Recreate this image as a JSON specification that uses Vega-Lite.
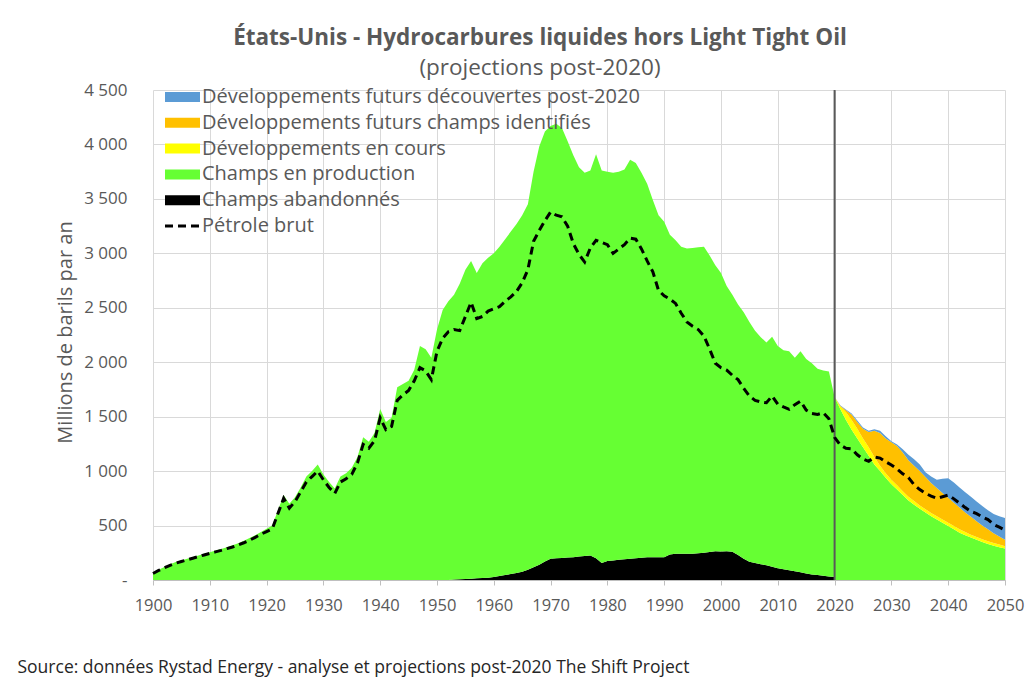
{
  "$schema": "https://vega.github.io/schema/vega-lite/v6.json",
  "width": 852,
  "height": 490,
  "autosize": "none",
  "padding": {"left": 153, "top": 90, "right": 30, "bottom": 102},
  "background": "white",
  "config": {"view": {"stroke": null}, "font": "Open Sans"},
  "title": {
    "text": "États-Unis - Hydrocarbures liquides hors Light Tight Oil",
    "subtitle": "(projections post-2020)",
    "anchor": "middle",
    "frame": "group",
    "dx": -39,
    "offset": 2,
    "font": "Open Sans",
    "fontSize": 22.5,
    "fontWeight": "bold",
    "color": "#595959",
    "subtitleFont": "Open Sans",
    "subtitleFontSize": 22.5,
    "subtitleColor": "#595959",
    "subtitlePadding": 7
  },
  "datasets": {
    "historique": [
      {"annee":1900,"Champs abandonnés":0,"Champs en production":65},
      {"annee":1901,"Champs abandonnés":0,"Champs en production":95},
      {"annee":1902,"Champs abandonnés":0,"Champs en production":120},
      {"annee":1903,"Champs abandonnés":0,"Champs en production":145},
      {"annee":1904,"Champs abandonnés":0,"Champs en production":165},
      {"annee":1905,"Champs abandonnés":0,"Champs en production":180},
      {"annee":1906,"Champs abandonnés":0,"Champs en production":195},
      {"annee":1907,"Champs abandonnés":0,"Champs en production":210},
      {"annee":1908,"Champs abandonnés":0,"Champs en production":225},
      {"annee":1909,"Champs abandonnés":0,"Champs en production":240},
      {"annee":1910,"Champs abandonnés":0,"Champs en production":255},
      {"annee":1911,"Champs abandonnés":0,"Champs en production":270},
      {"annee":1912,"Champs abandonnés":0,"Champs en production":285},
      {"annee":1913,"Champs abandonnés":0,"Champs en production":300},
      {"annee":1914,"Champs abandonnés":0,"Champs en production":318},
      {"annee":1915,"Champs abandonnés":0,"Champs en production":338},
      {"annee":1916,"Champs abandonnés":0,"Champs en production":360},
      {"annee":1917,"Champs abandonnés":0,"Champs en production":385},
      {"annee":1918,"Champs abandonnés":0,"Champs en production":410},
      {"annee":1919,"Champs abandonnés":0,"Champs en production":440},
      {"annee":1920,"Champs abandonnés":0,"Champs en production":470},
      {"annee":1921,"Champs abandonnés":0,"Champs en production":500},
      {"annee":1922,"Champs abandonnés":0,"Champs en production":640},
      {"annee":1923,"Champs abandonnés":0,"Champs en production":780},
      {"annee":1924,"Champs abandonnés":0,"Champs en production":700},
      {"annee":1925,"Champs abandonnés":0,"Champs en production":760},
      {"annee":1926,"Champs abandonnés":0,"Champs en production":850},
      {"annee":1927,"Champs abandonnés":0,"Champs en production":950},
      {"annee":1928,"Champs abandonnés":0,"Champs en production":1000},
      {"annee":1929,"Champs abandonnés":0,"Champs en production":1060},
      {"annee":1930,"Champs abandonnés":0,"Champs en production":970},
      {"annee":1931,"Champs abandonnés":0,"Champs en production":900},
      {"annee":1932,"Champs abandonnés":0,"Champs en production":840},
      {"annee":1933,"Champs abandonnés":0,"Champs en production":950},
      {"annee":1934,"Champs abandonnés":0,"Champs en production":980},
      {"annee":1935,"Champs abandonnés":0,"Champs en production":1030},
      {"annee":1936,"Champs abandonnés":0,"Champs en production":1130},
      {"annee":1937,"Champs abandonnés":0,"Champs en production":1310},
      {"annee":1938,"Champs abandonnés":0,"Champs en production":1270},
      {"annee":1939,"Champs abandonnés":0,"Champs en production":1350},
      {"annee":1940,"Champs abandonnés":0,"Champs en production":1570},
      {"annee":1941,"Champs abandonnés":0,"Champs en production":1450},
      {"annee":1942,"Champs abandonnés":0,"Champs en production":1490},
      {"annee":1943,"Champs abandonnés":0,"Champs en production":1770},
      {"annee":1944,"Champs abandonnés":0,"Champs en production":1800},
      {"annee":1945,"Champs abandonnés":0,"Champs en production":1830},
      {"annee":1946,"Champs abandonnés":0,"Champs en production":1930},
      {"annee":1947,"Champs abandonnés":0,"Champs en production":2150},
      {"annee":1948,"Champs abandonnés":0,"Champs en production":2120},
      {"annee":1949,"Champs abandonnés":0,"Champs en production":2040},
      {"annee":1950,"Champs abandonnés":0,"Champs en production":2300},
      {"annee":1951,"Champs abandonnés":0,"Champs en production":2480},
      {"annee":1952,"Champs abandonnés":0,"Champs en production":2560},
      {"annee":1953,"Champs abandonnés":5,"Champs en production":2615},
      {"annee":1954,"Champs abandonnés":8,"Champs en production":2712},
      {"annee":1955,"Champs abandonnés":10,"Champs en production":2840},
      {"annee":1956,"Champs abandonnés":12,"Champs en production":2918},
      {"annee":1957,"Champs abandonnés":15,"Champs en production":2805},
      {"annee":1958,"Champs abandonnés":18,"Champs en production":2892},
      {"annee":1959,"Champs abandonnés":21,"Champs en production":2939},
      {"annee":1960,"Champs abandonnés":28,"Champs en production":2972},
      {"annee":1961,"Champs abandonnés":36,"Champs en production":3024},
      {"annee":1962,"Champs abandonnés":46,"Champs en production":3084},
      {"annee":1963,"Champs abandonnés":55,"Champs en production":3145},
      {"annee":1964,"Champs abandonnés":65,"Champs en production":3205},
      {"annee":1965,"Champs abandonnés":75,"Champs en production":3275},
      {"annee":1966,"Champs abandonnés":95,"Champs en production":3355},
      {"annee":1967,"Champs abandonnés":118,"Champs en production":3632},
      {"annee":1968,"Champs abandonnés":140,"Champs en production":3840},
      {"annee":1969,"Champs abandonnés":170,"Champs en production":3950},
      {"annee":1970,"Champs abandonnés":195,"Champs en production":3975},
      {"annee":1971,"Champs abandonnés":200,"Champs en production":3990},
      {"annee":1972,"Champs abandonnés":203,"Champs en production":3947},
      {"annee":1973,"Champs abandonnés":206,"Champs en production":3824},
      {"annee":1974,"Champs abandonnés":210,"Champs en production":3690},
      {"annee":1975,"Champs abandonnés":215,"Champs en production":3575},
      {"annee":1976,"Champs abandonnés":220,"Champs en production":3520},
      {"annee":1977,"Champs abandonnés":224,"Champs en production":3536},
      {"annee":1978,"Champs abandonnés":200,"Champs en production":3710},
      {"annee":1979,"Champs abandonnés":155,"Champs en production":3605},
      {"annee":1980,"Champs abandonnés":175,"Champs en production":3575},
      {"annee":1981,"Champs abandonnés":180,"Champs en production":3560},
      {"annee":1982,"Champs abandonnés":185,"Champs en production":3565},
      {"annee":1983,"Champs abandonnés":190,"Champs en production":3580},
      {"annee":1984,"Champs abandonnés":195,"Champs en production":3665},
      {"annee":1985,"Champs abandonnés":200,"Champs en production":3630},
      {"annee":1986,"Champs abandonnés":205,"Champs en production":3535},
      {"annee":1987,"Champs abandonnés":208,"Champs en production":3432},
      {"annee":1988,"Champs abandonnés":208,"Champs en production":3282},
      {"annee":1989,"Champs abandonnés":208,"Champs en production":3142},
      {"annee":1990,"Champs abandonnés":210,"Champs en production":3080},
      {"annee":1991,"Champs abandonnés":235,"Champs en production":2935},
      {"annee":1992,"Champs abandonnés":240,"Champs en production":2880},
      {"annee":1993,"Champs abandonnés":240,"Champs en production":2820},
      {"annee":1994,"Champs abandonnés":240,"Champs en production":2805},
      {"annee":1995,"Champs abandonnés":240,"Champs en production":2810},
      {"annee":1996,"Champs abandonnés":245,"Champs en production":2810},
      {"annee":1997,"Champs abandonnés":250,"Champs en production":2810},
      {"annee":1998,"Champs abandonnés":258,"Champs en production":2722},
      {"annee":1999,"Champs abandonnés":265,"Champs en production":2625},
      {"annee":2000,"Champs abandonnés":262,"Champs en production":2558},
      {"annee":2001,"Champs abandonnés":265,"Champs en production":2435},
      {"annee":2002,"Champs abandonnés":260,"Champs en production":2360},
      {"annee":2003,"Champs abandonnés":230,"Champs en production":2300},
      {"annee":2004,"Champs abandonnés":195,"Champs en production":2265},
      {"annee":2005,"Champs abandonnés":168,"Champs en production":2202},
      {"annee":2006,"Champs abandonnés":155,"Champs en production":2135},
      {"annee":2007,"Champs abandonnés":145,"Champs en production":2085},
      {"annee":2008,"Champs abandonnés":135,"Champs en production":2045},
      {"annee":2009,"Champs abandonnés":122,"Champs en production":2113},
      {"annee":2010,"Champs abandonnés":108,"Champs en production":2042},
      {"annee":2011,"Champs abandonnés":98,"Champs en production":2012},
      {"annee":2012,"Champs abandonnés":90,"Champs en production":2010},
      {"annee":2013,"Champs abandonnés":80,"Champs en production":1960},
      {"annee":2014,"Champs abandonnés":72,"Champs en production":2028},
      {"annee":2015,"Champs abandonnés":60,"Champs en production":1970},
      {"annee":2016,"Champs abandonnés":50,"Champs en production":1940},
      {"annee":2017,"Champs abandonnés":45,"Champs en production":1895},
      {"annee":2018,"Champs abandonnés":38,"Champs en production":1887},
      {"annee":2019,"Champs abandonnés":32,"Champs en production":1883},
      {"annee":2020,"Champs abandonnés":28,"Champs en production":1652}
    ],
    "projections": [
      {"annee":2020,"Champs en production":1680,"Développements en cours":0,"Développements futurs champs identifiés":0,"Développements futurs découvertes post-2020":0},
      {"annee":2021,"Champs en production":1570,"Développements en cours":25,"Développements futurs champs identifiés":5,"Développements futurs découvertes post-2020":5},
      {"annee":2022,"Champs en production":1470,"Développements en cours":70,"Développements futurs champs identifiés":20,"Développements futurs découvertes post-2020":5},
      {"annee":2023,"Champs en production":1380,"Développements en cours":90,"Développements futurs champs identifiés":50,"Développements futurs découvertes post-2020":10},
      {"annee":2024,"Champs en production":1300,"Développements en cours":90,"Développements futurs champs identifiés":60,"Développements futurs découvertes post-2020":15},
      {"annee":2025,"Champs en production":1220,"Développements en cours":80,"Développements futurs champs identifiés":90,"Développements futurs découvertes post-2020":10},
      {"annee":2026,"Champs en production":1140,"Développements en cours":80,"Développements futurs champs identifiés":140,"Développements futurs découvertes post-2020":10},
      {"annee":2027,"Champs en production":1060,"Développements en cours":70,"Développements futurs champs identifiés":240,"Développements futurs découvertes post-2020":15},
      {"annee":2028,"Champs en production":1000,"Développements en cours":50,"Développements futurs champs identifiés":300,"Développements futurs découvertes post-2020":20},
      {"annee":2029,"Champs en production":940,"Développements en cours":40,"Développements futurs champs identifiés":320,"Développements futurs découvertes post-2020":20},
      {"annee":2030,"Champs en production":880,"Développements en cours":40,"Développements futurs champs identifiés":345,"Développements futurs découvertes post-2020":10},
      {"annee":2031,"Champs en production":830,"Développements en cours":40,"Développements futurs champs identifiés":360,"Développements futurs découvertes post-2020":15},
      {"annee":2032,"Champs en production":780,"Développements en cours":35,"Développements futurs champs identifiés":355,"Développements futurs découvertes post-2020":30},
      {"annee":2033,"Champs en production":730,"Développements en cours":35,"Développements futurs champs identifiés":335,"Développements futurs découvertes post-2020":50},
      {"annee":2034,"Champs en production":690,"Développements en cours":35,"Développements futurs champs identifiés":325,"Développements futurs découvertes post-2020":60},
      {"annee":2035,"Champs en production":655,"Développements en cours":30,"Développements futurs champs identifiés":315,"Développements futurs découvertes post-2020":60},
      {"annee":2036,"Champs en production":620,"Développements en cours":30,"Développements futurs champs identifiés":295,"Développements futurs découvertes post-2020":45},
      {"annee":2037,"Champs en production":585,"Développements en cours":30,"Développements futurs champs identifiés":275,"Développements futurs découvertes post-2020":60},
      {"annee":2038,"Champs en production":555,"Développements en cours":30,"Développements futurs champs identifiés":260,"Développements futurs découvertes post-2020":75},
      {"annee":2039,"Champs en production":525,"Développements en cours":30,"Développements futurs champs identifiés":245,"Développements futurs découvertes post-2020":130},
      {"annee":2040,"Champs en production":495,"Développements en cours":30,"Développements futurs champs identifiés":230,"Développements futurs découvertes post-2020":180},
      {"annee":2041,"Champs en production":465,"Développements en cours":30,"Développements futurs champs identifiés":215,"Développements futurs découvertes post-2020":185},
      {"annee":2042,"Champs en production":435,"Développements en cours":30,"Développements futurs champs identifiés":200,"Développements futurs découvertes post-2020":185},
      {"annee":2043,"Champs en production":410,"Développements en cours":30,"Développements futurs champs identifiés":180,"Développements futurs découvertes post-2020":185},
      {"annee":2044,"Champs en production":390,"Développements en cours":25,"Développements futurs champs identifiés":165,"Développements futurs découvertes post-2020":185},
      {"annee":2045,"Champs en production":370,"Développements en cours":25,"Développements futurs champs identifiés":145,"Développements futurs découvertes post-2020":180},
      {"annee":2046,"Champs en production":350,"Développements en cours":25,"Développements futurs champs identifiés":125,"Développements futurs découvertes post-2020":180},
      {"annee":2047,"Champs en production":330,"Développements en cours":25,"Développements futurs champs identifiés":110,"Développements futurs découvertes post-2020":175},
      {"annee":2048,"Champs en production":315,"Développements en cours":25,"Développements futurs champs identifiés":90,"Développements futurs découvertes post-2020":175},
      {"annee":2049,"Champs en production":300,"Développements en cours":25,"Développements futurs champs identifiés":75,"Développements futurs découvertes post-2020":185},
      {"annee":2050,"Champs en production":290,"Développements en cours":20,"Développements futurs champs identifiés":60,"Développements futurs découvertes post-2020":200}
    ],
    "brut": [
      {"annee":1900,"Pétrole brut":60},{"annee":1901,"Pétrole brut":88},{"annee":1902,"Pétrole brut":112},{"annee":1903,"Pétrole brut":135},{"annee":1904,"Pétrole brut":155},
      {"annee":1905,"Pétrole brut":170},{"annee":1906,"Pétrole brut":185},{"annee":1907,"Pétrole brut":200},{"annee":1908,"Pétrole brut":215},{"annee":1909,"Pétrole brut":230},
      {"annee":1910,"Pétrole brut":245},{"annee":1911,"Pétrole brut":258},{"annee":1912,"Pétrole brut":272},{"annee":1913,"Pétrole brut":288},{"annee":1914,"Pétrole brut":303},
      {"annee":1915,"Pétrole brut":322},{"annee":1916,"Pétrole brut":342},{"annee":1917,"Pétrole brut":365},{"annee":1918,"Pétrole brut":392},{"annee":1919,"Pétrole brut":420},
      {"annee":1920,"Pétrole brut":445},{"annee":1921,"Pétrole brut":470},{"annee":1922,"Pétrole brut":610},{"annee":1923,"Pétrole brut":750},{"annee":1924,"Pétrole brut":660},
      {"annee":1925,"Pétrole brut":720},{"annee":1926,"Pétrole brut":810},{"annee":1927,"Pétrole brut":900},{"annee":1928,"Pétrole brut":950},{"annee":1929,"Pétrole brut":1000},
      {"annee":1930,"Pétrole brut":920},{"annee":1931,"Pétrole brut":850},{"annee":1932,"Pétrole brut":795},{"annee":1933,"Pétrole brut":900},{"annee":1934,"Pétrole brut":930},
      {"annee":1935,"Pétrole brut":970},{"annee":1936,"Pétrole brut":1075},{"annee":1937,"Pétrole brut":1245},{"annee":1938,"Pétrole brut":1210},{"annee":1939,"Pétrole brut":1280},
      {"annee":1940,"Pétrole brut":1490},{"annee":1941,"Pétrole brut":1380},{"annee":1942,"Pétrole brut":1410},{"annee":1943,"Pétrole brut":1650},{"annee":1944,"Pétrole brut":1700},
      {"annee":1945,"Pétrole brut":1740},{"annee":1946,"Pétrole brut":1830},{"annee":1947,"Pétrole brut":1950},{"annee":1948,"Pétrole brut":1920},{"annee":1949,"Pétrole brut":1840},
      {"annee":1950,"Pétrole brut":2100},{"annee":1951,"Pétrole brut":2220},{"annee":1952,"Pétrole brut":2280},{"annee":1953,"Pétrole brut":2300},{"annee":1954,"Pétrole brut":2290},
      {"annee":1955,"Pétrole brut":2420},{"annee":1956,"Pétrole brut":2550},{"annee":1957,"Pétrole brut":2400},{"annee":1958,"Pétrole brut":2420},{"annee":1959,"Pétrole brut":2470},
      {"annee":1960,"Pétrole brut":2490},{"annee":1961,"Pétrole brut":2510},{"annee":1962,"Pétrole brut":2560},{"annee":1963,"Pétrole brut":2600},{"annee":1964,"Pétrole brut":2650},
      {"annee":1965,"Pétrole brut":2730},{"annee":1966,"Pétrole brut":2850},{"annee":1967,"Pétrole brut":3110},{"annee":1968,"Pétrole brut":3210},{"annee":1969,"Pétrole brut":3300},
      {"annee":1970,"Pétrole brut":3380},{"annee":1971,"Pétrole brut":3350},{"annee":1972,"Pétrole brut":3335},{"annee":1973,"Pétrole brut":3250},{"annee":1974,"Pétrole brut":3090},
      {"annee":1975,"Pétrole brut":2990},{"annee":1976,"Pétrole brut":2920},{"annee":1977,"Pétrole brut":3050},{"annee":1978,"Pétrole brut":3120},{"annee":1979,"Pétrole brut":3100},
      {"annee":1980,"Pétrole brut":3080},{"annee":1981,"Pétrole brut":3000},{"annee":1982,"Pétrole brut":3040},{"annee":1983,"Pétrole brut":3080},{"annee":1984,"Pétrole brut":3140},
      {"annee":1985,"Pétrole brut":3130},{"annee":1986,"Pétrole brut":3040},{"annee":1987,"Pétrole brut":2930},{"annee":1988,"Pétrole brut":2830},{"annee":1989,"Pétrole brut":2660},
      {"annee":1990,"Pétrole brut":2610},{"annee":1991,"Pétrole brut":2580},{"annee":1992,"Pétrole brut":2540},{"annee":1993,"Pétrole brut":2450},{"annee":1994,"Pétrole brut":2370},
      {"annee":1995,"Pétrole brut":2330},{"annee":1996,"Pétrole brut":2300},{"annee":1997,"Pétrole brut":2240},{"annee":1998,"Pétrole brut":2120},{"annee":1999,"Pétrole brut":1990},
      {"annee":2000,"Pétrole brut":1950},{"annee":2001,"Pétrole brut":1928},{"annee":2002,"Pétrole brut":1880},{"annee":2003,"Pétrole brut":1840},{"annee":2004,"Pétrole brut":1760},
      {"annee":2005,"Pétrole brut":1690},{"annee":2006,"Pétrole brut":1650},{"annee":2007,"Pétrole brut":1635},{"annee":2008,"Pétrole brut":1628},{"annee":2009,"Pétrole brut":1690},
      {"annee":2010,"Pétrole brut":1615},{"annee":2011,"Pétrole brut":1590},{"annee":2012,"Pétrole brut":1567},{"annee":2013,"Pétrole brut":1610},{"annee":2014,"Pétrole brut":1643},
      {"annee":2015,"Pétrole brut":1560},{"annee":2016,"Pétrole brut":1530},{"annee":2017,"Pétrole brut":1521},{"annee":2018,"Pétrole brut":1536},{"annee":2019,"Pétrole brut":1480},
      {"annee":2020,"Pétrole brut":1310},{"annee":2021,"Pétrole brut":1240},{"annee":2022,"Pétrole brut":1210},{"annee":2023,"Pétrole brut":1205},{"annee":2024,"Pétrole brut":1150},
      {"annee":2025,"Pétrole brut":1110},{"annee":2026,"Pétrole brut":1090},{"annee":2027,"Pétrole brut":1130},{"annee":2028,"Pétrole brut":1120},{"annee":2029,"Pétrole brut":1085},
      {"annee":2030,"Pétrole brut":1056},{"annee":2031,"Pétrole brut":1020},{"annee":2032,"Pétrole brut":975},{"annee":2033,"Pétrole brut":940},{"annee":2034,"Pétrole brut":875},
      {"annee":2035,"Pétrole brut":830},{"annee":2036,"Pétrole brut":796},{"annee":2037,"Pétrole brut":770},{"annee":2038,"Pétrole brut":750},{"annee":2039,"Pétrole brut":765},
      {"annee":2040,"Pétrole brut":780},{"annee":2041,"Pétrole brut":745},{"annee":2042,"Pétrole brut":705},{"annee":2043,"Pétrole brut":665},{"annee":2044,"Pétrole brut":630},
      {"annee":2045,"Pétrole brut":610},{"annee":2046,"Pétrole brut":580},{"annee":2047,"Pétrole brut":555},{"annee":2048,"Pétrole brut":510},{"annee":2049,"Pétrole brut":485},
      {"annee":2050,"Pétrole brut":459}
    ]
  },
  "layer": [
    {
      "data": {"name": "historique"},
      "transform": [{"fold": ["Champs abandonnés", "Champs en production"], "as": ["serie", "valeur"]}],
      "mark": {"type": "area", "opacity": 1, "interpolate": "linear"},
      "encoding": {
        "x": {
          "field": "annee",
          "type": "quantitative",
          "title": "Source: données Rystad Energy - analyse et projections post-2020  The Shift Project",
          "scale": {"domain": [1900, 2050], "nice": false, "zero": false},
          "axis": {
            "values": [1900,1910,1920,1930,1940,1950,1960,1970,1980,1990,2000,2010,2020,2030,2040,2050],
            "format": "d",
            "labelFont": "Open Sans",
            "labelFontSize": 16.5,
            "labelColor": "#595959",
            "labelPadding": 12,
            "labelFlush": false,
            "domainColor": "#bfbfbf",
            "tickColor": "#bfbfbf",
            "tickSize": 5,
            "grid": true,
            "gridColor": "#d9d9d9",
            "titleFont": "Open Sans",
            "titleFontSize": 17.5,
            "titleFontWeight": "normal",
            "titleColor": "#262626",
            "titleAnchor": "start",
            "titleAlign": "left",
            "titleBaseline": "middle",
            "titleX": -136,
            "titleY": 87
          }
        },
        "y": {
          "field": "valeur",
          "type": "quantitative",
          "stack": "zero",
          "title": "Millions de barils par an",
          "scale": {"domain": [0, 4500], "nice": false},
          "axis": {
            "values": [0,500,1000,1500,2000,2500,3000,3500,4000,4500],
            "labelExpr": "datum.value == 0 ? '-' : replace(format(datum.value, ','), ',', ' ')",
            "labelFont": "Open Sans",
            "labelFontSize": 17,
            "labelColor": "#595959",
            "labelPadding": 26,
            "labelFlush": false,
            "ticks": false,
            "domain": false,
            "grid": true,
            "gridColor": "#d9d9d9",
            "titleFont": "Open Sans",
            "titleFontSize": 20,
            "titleFontWeight": "normal",
            "titleColor": "#595959",
            "titleX": -78,
            "titleY": 242,
            "titleAngle": -90,
            "titleAlign": "center",
            "titleBaseline": "bottom"
          }
        },
        "color": {
          "field": "serie",
          "type": "nominal",
          "scale": {
            "domain": ["Développements futurs découvertes post-2020", "Développements futurs champs identifiés", "Développements en cours", "Champs en production", "Champs abandonnés"],
            "range": ["#5B9BD5", "#FFC000", "#FFFF00", "#66FF33", "#000000"]
          },
          "legend": {
            "orient": "none",
            "legendX": 19.5,
            "legendY": -3,
            "title": null,
            "padding": 0,
            "symbolType": "M-3.5,-1L3.5,-1L3.5,1L-3.5,1Z",
            "symbolSize": 100,
            "symbolStrokeWidth": 0,
            "symbolOpacity": 1,
            "labelFont": "Open Sans",
            "labelFontSize": 20,
            "labelColor": "#595959",
            "labelOffset": 9.5,
            "labelLimit": 0,
            "rowPadding": 5.8
          }
        },
        "order": {"field": "serie", "type": "ordinal", "sort": "ascending"}
      }
    },
    {
      "data": {"name": "projections"},
      "transform": [{"fold": ["Champs en production", "Développements en cours", "Développements futurs champs identifiés", "Développements futurs découvertes post-2020"], "as": ["serie", "valeur"]}],
      "mark": {"type": "area", "opacity": 1, "interpolate": "linear"},
      "encoding": {
        "x": {"field": "annee", "type": "quantitative", "title": "Source: données Rystad Energy - analyse et projections post-2020  The Shift Project"},
        "y": {"field": "valeur", "type": "quantitative", "stack": "zero", "title": "Millions de barils par an"},
        "color": {
          "field": "serie",
          "type": "nominal",
          "scale": {
            "domain": ["Développements futurs découvertes post-2020", "Développements futurs champs identifiés", "Développements en cours", "Champs en production", "Champs abandonnés"],
            "range": ["#5B9BD5", "#FFC000", "#FFFF00", "#66FF33", "#000000"]
          }
        },
        "order": {"field": "serie", "type": "ordinal", "sort": "ascending"}
      }
    },
    {
      "data": {"values": [{"annee": 2020}]},
      "mark": {"type": "rule", "color": "#595959", "strokeWidth": 2},
      "encoding": {
        "x": {"field": "annee", "type": "quantitative", "title": "Source: données Rystad Energy - analyse et projections post-2020  The Shift Project"}
      }
    },
    {
      "data": {"name": "brut"},
      "transform": [{"fold": ["Pétrole brut"], "as": ["serie", "valeur"]}],
      "mark": {"type": "line", "color": "#000000", "strokeWidth": 3},
      "encoding": {
        "x": {"field": "annee", "type": "quantitative", "title": "Source: données Rystad Energy - analyse et projections post-2020  The Shift Project"},
        "y": {"field": "valeur", "type": "quantitative", "title": "Millions de barils par an"},
        "strokeDash": {
          "field": "serie",
          "type": "nominal",
          "scale": {"domain": ["Pétrole brut"], "range": [[8, 5]]},
          "legend": {
            "orient": "none",
            "legendX": 19.5,
            "legendY": 126,
            "title": null,
            "padding": 0,
            "symbolType": "M-3.5,0L3.5,0",
            "symbolSize": 100,
            "symbolStrokeColor": "#000000",
            "symbolStrokeWidth": 3,
            "labelFont": "Open Sans",
            "labelFontSize": 20,
            "labelColor": "#595959",
            "labelOffset": 9.5,
            "labelLimit": 0
          }
        }
      }
    }
  ]
}
